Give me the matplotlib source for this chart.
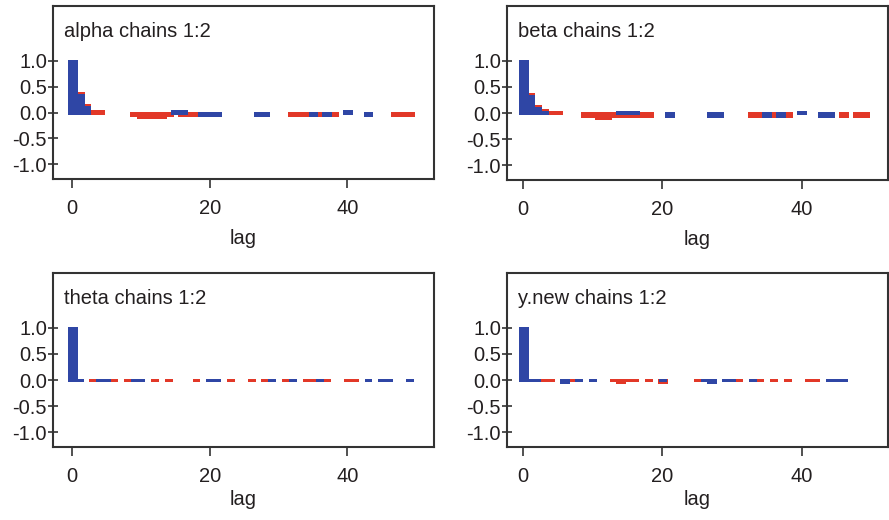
import matplotlib
matplotlib.use("Agg")
import matplotlib.pyplot as plt

plt.rcParams['font.family'] = ['Liberation Sans', 'DejaVu Sans']

# autocorrelation per lag, chain 1 (blue) and chain 2 (red); lags not listed are not drawn
alpha_lag1 = [0, 1, 2, 15, 16, 19, 20, 21, 27, 28, 35, 37, 40, 43]
alpha_acf1 = [1.0, 0.33, 0.10, 0.02, 0.02, -0.05, -0.05, -0.05, -0.05, -0.05, -0.05, -0.05, 0.03, -0.05]
alpha_lag2 = [0, 1, 2, 3, 4, 9, 10, 11, 12, 13, 14, 16, 17, 18, 32, 33, 34, 36, 38, 47, 48, 49]
alpha_acf2 = [1.0, 0.37, 0.14, 0.03, 0.03, -0.05, -0.09, -0.09, -0.09, -0.09, -0.05, -0.05, -0.05, -0.05,
              -0.05, -0.05, -0.05, -0.05, -0.05, -0.05, -0.05, -0.05]

beta_lag1 = [0, 1, 2, 3, 14, 15, 16, 21, 27, 28, 35, 37, 40, 43, 44]
beta_acf1 = [1.0, 0.33, 0.10, 0.03, 0.03, 0.03, 0.03, -0.05, -0.05, -0.05, -0.05, -0.05, 0.03, -0.05, -0.05]
beta_lag2 = [0, 1, 2, 3, 4, 5, 9, 10, 11, 12, 13, 14, 15, 16, 17, 18, 33, 34, 36, 38, 46, 48, 49]
beta_acf2 = [1.0, 0.37, 0.14, 0.06, 0.03, 0.03, -0.05, -0.05, -0.09, -0.09, -0.05, -0.05, -0.05, -0.05,
             -0.05, -0.05, -0.05, -0.05, -0.05, -0.05, -0.05, -0.05, -0.05]

theta_lag1 = [0, 1, 4, 5, 9, 10, 20, 21, 29, 32, 36, 43, 45, 46, 49]
theta_acf1 = [1.0, 0.01, 0.01, 0.01, 0.01, 0.01, 0.01, 0.01, 0.01, 0.01, 0.01, 0.01, 0.01, 0.01, 0.01]
theta_lag2 = [0, 3, 6, 8, 12, 14, 18, 23, 26, 28, 31, 34, 35, 37, 40, 41]
theta_acf2 = [1.0, 0.01, 0.01, 0.01, 0.01, 0.01, 0.01, 0.01, 0.01, 0.01, 0.01, 0.01, 0.01, 0.01, 0.01, 0.01]

ynew_lag1 = [0, 1, 2, 6, 8, 10, 20, 26, 27, 29, 30, 33, 44, 45, 46]
ynew_acf1 = [1.0, 0.0, 0.0, -0.04, 0.0, 0.0, 0.0, 0.0, -0.04, 0.0, 0.0, 0.0, 0.0, 0.0, 0.0]
ynew_lag2 = [0, 3, 4, 7, 13, 14, 15, 16, 18, 20, 25, 27, 31, 34, 36, 38, 41, 42]
ynew_acf2 = [1.0, 0.0, 0.0, 0.0, 0.0, -0.04, 0.0, 0.0, 0.0, -0.04, 0.0, 0.01, 0.0, 0.0, 0.0, 0.0, 0.0, 0.0]

titles = ["alpha chains 1:2", "beta chains 1:2", "theta chains 1:2", "y.new chains 1:2"]
y_ticks = [-1.0, -0.5, 0.0, 0.5, 1.0]
y_ticklabels = ["-1.0", "-0.5", "0.0", "0.5", "1.0"]
x_ticks = [0, 20, 40]

BLUE = '#2f46a5'
RED = '#e23828'
INK = '#231f20'
FRAME = '#333333'

series = [
    (alpha_lag1, alpha_acf1, alpha_lag2, alpha_acf2),
    (beta_lag1, beta_acf1, beta_lag2, beta_acf2),
    (theta_lag1, theta_acf1, theta_lag2, theta_acf2),
    (ynew_lag1, ynew_acf1, ynew_lag2, ynew_acf2),
]

W, H = 889, 520
boxes = [(53, 6, 381, 173), (507, 6, 381, 174), (53, 273, 381, 174), (507, 273, 381, 174)]
xlims = [(-2.8, 52.6), (-2.3, 52.4), (-2.8, 52.6), (-2.3, 52.4)]
labelpads = [7.5, 7.5, 2.5, 2.5]
FS = 14.5

fig = plt.figure(figsize=(W / 100, H / 100), dpi=100)

for (x0, y0, w, h), xlim, lp, title, (l1, a1, l2, a2) in zip(boxes, xlims, labelpads, titles, series):
    ax = fig.add_axes([x0 / W, 1 - (y0 + h) / H, w / W, h / H])
    # chain 2 first, chain 1 painted over it
    ax.bar(l2, a2, width=1.0, color=RED, edgecolor=RED, linewidth=1.9,
           antialiased=False, zorder=2)
    ax.bar(l1, a1, width=1.0, color=BLUE, edgecolor=BLUE, linewidth=1.9,
           antialiased=False, zorder=3)
    ax.set_xlim(*xlim)
    ax.set_ylim(-1.28, 2.05)
    ax.set_yticks(y_ticks)
    ax.set_yticklabels(y_ticklabels)
    ax.set_xticks(x_ticks)
    for sp in ax.spines.values():
        sp.set_color(FRAME)
        sp.set_linewidth(1.5)
    ax.tick_params(axis='y', direction='inout', length=6.5, width=1.2, pad=1,
                   colors=FRAME, labelcolor=INK, labelsize=FS)
    ax.tick_params(axis='x', direction='out', length=6.5, width=1.2, pad=8,
                   colors=FRAME, labelcolor=INK, labelsize=FS)
    ax.set_xlabel("lag", fontsize=FS, color=INK, labelpad=lp)
    ax.text(0.028, 0.855, title, transform=ax.transAxes, ha='left', va='center',
            fontsize=FS, color=INK)

fig.savefig("out.png", dpi=100)
